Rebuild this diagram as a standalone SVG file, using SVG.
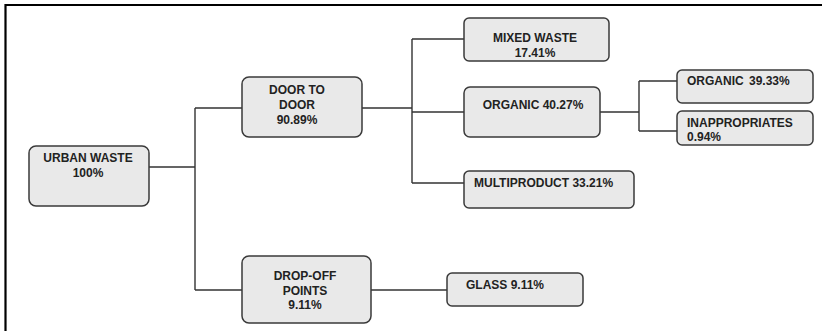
<svg xmlns="http://www.w3.org/2000/svg" width="822" height="331" viewBox="0 0 822 331">
<style>
.box{fill:#e9e9e9;stroke:#3a3a3a;stroke-width:1.5}
.t{font-family:"Liberation Sans",Arial,sans-serif;font-weight:bold;font-size:12px;fill:#222}
.m{text-anchor:middle}
.c{fill:none;stroke:#333;stroke-width:1.4}
</style>
<rect width="822" height="331" fill="#fff"/>
<path d="M5.5,331 V5 H822" fill="none" stroke="#000" stroke-width="2.2"/>
<g id="connectors" class="c">
<path d="M149,167 H195 M195,108 V290 M195,108 H242 M195,290 H242"/>
<path d="M362,108 H412 M412,39 V183 M412,39 H464 M412,112 H464 M412,183 H464"/>
<path d="M600,112 H639 M639,81 V131 M639,81 H677 M639,131 H677"/>
<path d="M371,290 H447"/>
</g>
<g id="urban-waste"><rect class="box" x="29" y="146" width="120" height="60" rx="7"/>
<text class="t m" x="88" y="162">URBAN WASTE</text><text class="t m" x="88" y="177">100%</text></g>
<g id="door-to-door"><rect class="box" x="242" y="77" width="120" height="60" rx="7"/>
<text class="t m" x="297" y="94">DOOR TO</text><text class="t m" x="297" y="109">DOOR</text><text class="t m" x="297" y="124">90.89%</text></g>
<g id="drop-off"><rect class="box" x="242" y="256" width="129" height="67" rx="7"/>
<text class="t m" x="305" y="280">DROP-OFF</text><text class="t m" x="305" y="295">POINTS</text><text class="t m" x="305" y="309">9.11%</text></g>
<g id="mixed-waste"><rect class="box" x="464" y="18" width="145" height="43" rx="5"/>
<text class="t m" x="535" y="42">MIXED WASTE</text><text class="t m" x="535" y="57">17.41%</text></g>
<g id="organic"><rect class="box" x="464" y="87" width="136" height="50" rx="6"/>
<text class="t m" x="533" y="109">ORGANIC 40.27%</text></g>
<g id="multiproduct"><rect class="box" x="464" y="171" width="170" height="37" rx="5"/>
<text class="t" x="474" y="187">MULTIPRODUCT 33.21%</text></g>
<g id="organic-2"><rect class="box" x="677" y="70" width="136" height="33" rx="5"/>
<text class="t" x="687" y="85">ORGANIC</text><text class="t" x="749" y="85">39.33%</text></g>
<g id="inappropriates"><rect class="box" x="677" y="111" width="136" height="34" rx="5"/>
<text class="t" x="687" y="127">INAPPROPRIATES</text><text class="t" x="687" y="141">0.94%</text></g>
<g id="glass"><rect class="box" x="447" y="273" width="136" height="33" rx="5"/>
<text class="t" x="466" y="289">GLASS 9.11%</text></g>
</svg>
